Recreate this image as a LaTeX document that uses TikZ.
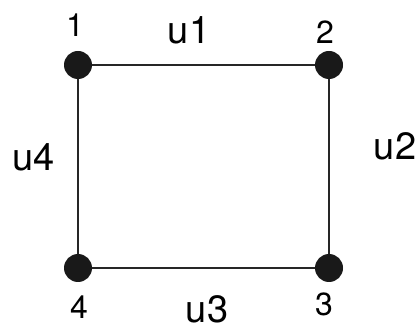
\documentclass[tikz,border=0pt]{standalone}
\usepackage{fontspec}
\setmainfont{TeX Gyre Heros}
\begin{document}
\begin{tikzpicture}[x=1pt,y=-1pt,
  vertex/.style={circle,fill=black!90,inner sep=0pt,minimum size=28pt},
  edgelab/.style={font=\fontsize{38}{42}\selectfont,inner sep=0pt},
  numlab/.style={font=\fontsize{32}{36}\selectfont,inner sep=0pt},
  edge/.style={line width=1.5pt,black!85}]
\useasboundingbox (0,0) rectangle (418,331);
\node[vertex] (v1) at (78,65) {};
\node[vertex] (v2) at (329,65) {};
\node[vertex] (v3) at (329,268) {};
\node[vertex] (v4) at (78,268) {};
\draw[edge] (v1) -- (v2);
\draw[edge] (v2) -- (v3);
\draw[edge] (v3) -- (v4);
\draw[edge] (v4) -- (v1);
\node[numlab] (n1) at (75,25) {1};
\node[numlab] (n2) at (325,32) {2};
\node[numlab] (n3) at (324,304) {3};
\node[numlab] (n4) at (79,307) {4};
\node[edgelab] (e1) at (189,30) {u1};
\node[edgelab] (e2) at (395,146) {u2};
\node[edgelab] (e3) at (207,309) {u3};
\node[edgelab] (e4) at (34,157) {u4};
\end{tikzpicture}
\end{document}
